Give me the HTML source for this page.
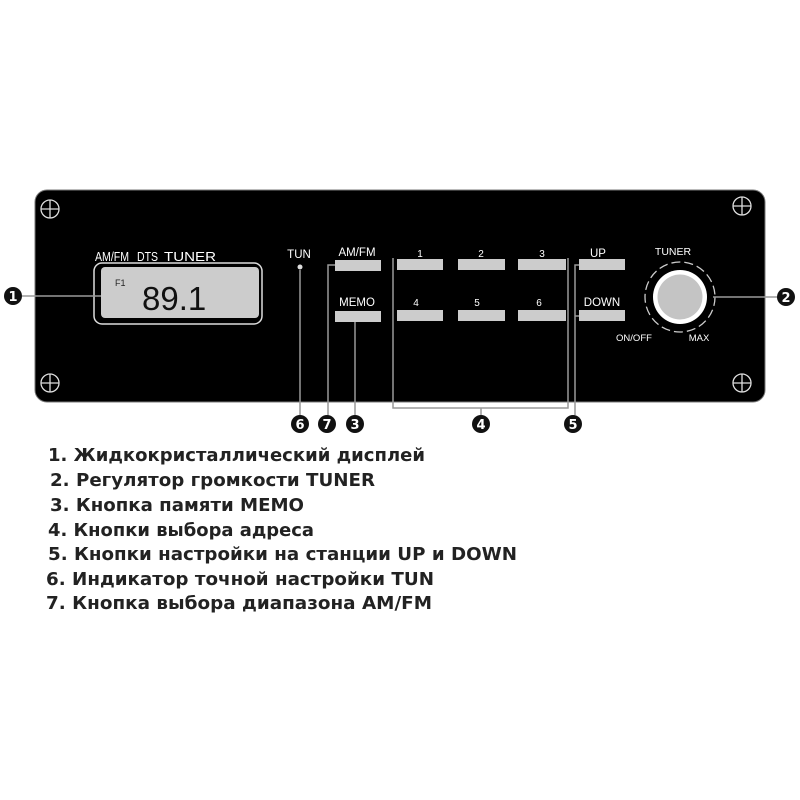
<!DOCTYPE html>
<html><head><meta charset="utf-8"><style>body{margin:0;background:#fff}svg{display:block}</style></head>
<body>
<svg width="800" height="800" viewBox="0 0 800 800" xmlns="http://www.w3.org/2000/svg" font-family="'Liberation Sans', sans-serif">
<rect x="0" y="0" width="800" height="800" fill="#fff"/>
<rect x="35" y="190" width="730" height="212" rx="12" fill="#000" stroke="#777" stroke-width="1"/>
<g stroke="#ddd" stroke-width="1.3" fill="none">
<circle cx="50" cy="209" r="9"/><path d="M41 209h18M50 200v18"/>
<circle cx="742" cy="206" r="9"/><path d="M733 206h18M742 197v18"/>
<circle cx="50" cy="383" r="9"/><path d="M41 383h18M50 374v18"/>
<circle cx="742" cy="383" r="9"/><path d="M733 383h18M742 374v18"/>
</g>
<g fill="#fff" font-size="12.5">
<text x="95" y="261" textLength="34" lengthAdjust="spacingAndGlyphs">AM/FM</text><text x="137" y="261" textLength="21" lengthAdjust="spacingAndGlyphs">DTS</text><text x="164" y="261" textLength="52" lengthAdjust="spacingAndGlyphs">TUNER</text>
</g>
<rect x="94" y="263" width="168" height="61" rx="8" fill="none" stroke="#ddd" stroke-width="1.5"/>
<rect x="101" y="267" width="158" height="51" rx="4" fill="#ccc"/>
<text x="115" y="286" font-size="9" fill="#222">F1</text>
<text x="142" y="310" font-size="33" fill="#111">89.1</text>
<g fill="#fff" font-size="11.5" text-anchor="middle">
<text x="299" y="258">TUN</text>
<text x="357" y="256">AM/FM</text>
<text x="357" y="306">MEMO</text>
<text x="420" y="257" font-size="10">1</text><text x="481" y="257" font-size="10">2</text><text x="542" y="257" font-size="10">3</text>
<text x="416" y="306" font-size="10">4</text><text x="477" y="306" font-size="10">5</text><text x="539" y="306" font-size="10">6</text>
<text x="598" y="257">UP</text><text x="602" y="306">DOWN</text>
<text x="673" y="255" font-size="10.5">TUNER</text>
<text x="634" y="341" font-size="9.5">ON/OFF</text>
<text x="699" y="341" font-size="9.5">MAX</text>
</g>
<circle cx="300" cy="267" r="2.5" fill="#ddd"/>
<g fill="#ccc">
<rect x="335" y="260" width="46" height="11"/><rect x="335" y="311" width="46" height="11"/>
<rect x="397" y="259" width="46" height="11"/><rect x="458" y="259" width="47" height="11"/><rect x="518" y="259" width="48" height="11"/>
<rect x="397" y="310" width="46" height="11"/><rect x="458" y="310" width="47" height="11"/><rect x="518" y="310" width="48" height="11"/>
<rect x="579" y="259" width="46" height="11"/><rect x="579" y="310" width="46" height="11"/>
</g>
<circle cx="680" cy="297" r="35" fill="none" stroke="#ccc" stroke-width="1.3" stroke-dasharray="9 4"/>
<circle cx="680" cy="297" r="27" fill="#fff"/>
<circle cx="680" cy="297" r="22.5" fill="#c4c4c4"/>
<g stroke="#999" stroke-width="1.5" fill="none">
<path d="M22 296H101"/>
<path d="M713 297H778"/>
<path d="M300 270V415"/>
<path d="M335 265H328V415"/>
<path d="M355 322V415"/>
<path d="M393 258V408H568V258M481 408V415"/>
<path d="M579 265H575V316H579M575 316V415"/>
</g>
<g font-family="'DejaVu Sans', sans-serif" font-weight="bold" font-size="13" text-anchor="middle">
<g fill="#111"><circle cx="13" cy="296" r="9"/><circle cx="786" cy="297" r="9"/><circle cx="300" cy="424" r="9"/><circle cx="327" cy="424" r="9"/><circle cx="355" cy="424" r="9"/><circle cx="481" cy="424" r="9"/><circle cx="573" cy="424" r="9"/></g>
<g fill="#fff"><text x="13" y="301">1</text><text x="786" y="302">2</text><text x="300" y="429">6</text><text x="327" y="429">7</text><text x="355" y="429">3</text><text x="481" y="429">4</text><text x="573" y="429">5</text></g>
</g>
<g font-family="'DejaVu Sans', sans-serif" font-weight="bold" font-size="18" fill="#222">
<text x="48" y="461" textLength="377" lengthAdjust="spacingAndGlyphs">1. Жидкокристаллический дисплей</text>
<text x="50" y="486" textLength="325" lengthAdjust="spacingAndGlyphs">2. Регулятор громкости TUNER</text>
<text x="50" y="511" textLength="254" lengthAdjust="spacingAndGlyphs">3. Кнопка памяти MEMO</text>
<text x="48" y="536" textLength="266" lengthAdjust="spacingAndGlyphs">4. Кнопки выбора адреса</text>
<text x="48" y="560" textLength="469" lengthAdjust="spacingAndGlyphs">5. Кнопки настройки на станции UP и DOWN</text>
<text x="46" y="585" textLength="388" lengthAdjust="spacingAndGlyphs">6. Индикатор точной настройки TUN</text>
<text x="46" y="609" textLength="386" lengthAdjust="spacingAndGlyphs">7. Кнопка выбора диапазона AM/FM</text>
</g>
</svg>
</body></html>
